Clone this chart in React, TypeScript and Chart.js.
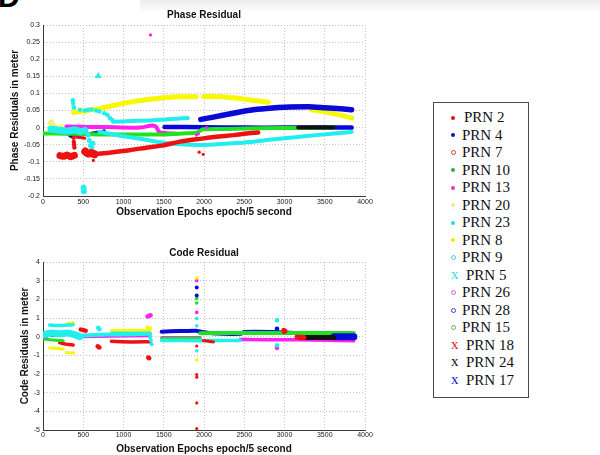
import React, { useEffect, useRef } from "react";
import { Chart, registerables } from "chart.js";

Chart.register(...registerables);

type P = [number, number];

// ---------- tick labels ----------
const EPOCH_TICKS = [0, 500, 1000, 1500, 2000, 2500, 3000, 3500, 4000];
const PHASE_TICKS = [-0.2, -0.15, -0.1, -0.05, 0, 0.05, 0.1, 0.15, 0.2, 0.25, 0.3];
const CODE_TICKS = [-5, -4, -3, -2, -1, 0, 1, 2, 3, 4];

// ---------- legend ----------
const legendLabels = ["PRN 2", "PRN 4", "PRN 7", "PRN 10", "PRN 13", "PRN 20", "PRN 23", "PRN 8", "PRN 9", "PRN 5", "PRN 26", "PRN 28", "PRN 15", "PRN 18", "PRN 24", "PRN 17"];
const legendColors = ["#e01010", "#1010c0", "#d04040", "#33b033", "#ee33cc", "#eeee88", "#22dddd", "#eeee00", "#44cccc", "#33dddd", "#cc66cc", "#4444bb", "#66b066", "#dd2222", "#111111", "#2222cc"];
const legendMarkers = ["dot", "dot", "ring", "dot", "dot", "dot", "dot", "dot", "ring", "x", "ring", "ring", "ring", "x", "x", "x"];

// ---------- phase residual data (epoch, metre) ----------
const phaseYellowArcA: P[] = [[381, 0.044], [500, 0.048], [705, 0.056], [900, 0.066], [1119, 0.076], [1330, 0.083], [1534, 0.088], [1700, 0.09], [1900, 0.09]];
const phaseYellowArcB: P[] = [[1995, 0.091], [2200, 0.09], [2363, 0.087], [2570, 0.081], [2800, 0.074]];
const phaseYellowTail: P[] = [[3340, 0.052], [3500, 0.046], [3606, 0.041], [3720, 0.035], [3834, 0.028]];
const phasePaleYellowDots: P[] = [[83, 0.012], [100, 0.018], [115, 0.015], [140, 0.006], [175, 0.002], [230, 0.004]];
const phaseBlueArc: P[] = [[1960, 0.024], [2100, 0.03], [2363, 0.042], [2570, 0.051], [2777, 0.056], [3067, 0.06], [3300, 0.061], [3500, 0.058], [3700, 0.055], [3834, 0.052]];
const phaseBlueZero: P[] = [[1510, 0.002], [2000, 0.001], [2500, 0.0], [3000, 0.0], [3500, 0.001], [3834, 0.0]];
const phaseBlueEarly: P[] = [[300, -0.013], [350, -0.025], [400, -0.02], [460, -0.016]];
const phaseBlueMid: P[] = [[600, -0.017], [680, -0.014], [760, -0.01]];
const phaseGreen: P[] = [[0, -0.017], [300, -0.018], [700, -0.02], [1119, -0.02], [1500, -0.02], [1741, -0.017], [1907, -0.015], [1990, -0.005], [2300, -0.004], [2700, -0.002], [3200, -0.001], [3606, 0.0]];
const phaseMagenta: P[] = [[290, 0.003], [600, 0.002], [900, 0.001], [1200, 0.0], [1360, 0.006], [1410, 0.001], [1440, -0.012], [1500, -0.016], [1658, -0.018]];
const phaseMagentaDots: P[] = [[1907, -0.022], [1930, -0.018], [2031, 0.0], [1335, 0.271]];
const phaseCyanUpper: P[] = [[870, 0.017], [1100, 0.019], [1326, 0.021], [1600, 0.025], [1800, 0.028]];
const phaseCyanLower: P[] = [[700, -0.012], [829, -0.018], [1040, -0.027], [1244, -0.034], [1451, -0.043], [1700, -0.049], [1949, -0.051], [2150, -0.049], [2363, -0.046], [2570, -0.042], [2777, -0.036], [3100, -0.029], [3399, -0.022], [3834, -0.013]];
const phaseCyanCluster: P[] = [[100, -0.004], [200, -0.008], [300, -0.01], [400, -0.006], [460, -0.012], [520, -0.008]];
const phaseCyanDrop: P[] = [[560, -0.022], [575, -0.038], [590, -0.052], [605, -0.058], [620, -0.046]];
const phaseCyanSparse: P[] = [[370, 0.08], [375, 0.07], [385, 0.058], [460, 0.052], [520, 0.05], [560, 0.052], [600, 0.053], [660, 0.05], [700, 0.047], [760, 0.042], [800, 0.037], [830, 0.028], [860, 0.022]];
const phaseCyanPeak: P[] = [[685, 0.151]];
const phaseCyanLow: P[] = [[504, -0.176], [508, -0.186]];
const phaseRedClusterA: P[] = [[210, -0.082], [260, -0.084], [300, -0.08], [340, -0.085], [390, -0.081]];
const phaseRedDrop: P[] = [[380, -0.03], [383, -0.042], [387, -0.05], [390, -0.058]];
const phaseRedShort: P[] = [[420, -0.028], [470, -0.029], [520, -0.031]];
const phaseRedClusterB: P[] = [[525, -0.07], [560, -0.076], [600, -0.074], [640, -0.078]];
const phaseRedTrack: P[] = [[640, -0.078], [800, -0.074], [1078, -0.066], [1300, -0.058], [1493, -0.052], [1700, -0.041], [1949, -0.033], [2150, -0.027], [2363, -0.022], [2500, -0.018], [2673, -0.014]];
const phaseRedDots: P[] = [[625, -0.096], [1940, -0.072], [1990, -0.078]];
const phaseBlack: P[] = [[3170, 0.0], [3400, 0.0], [3606, 0.0]];

// ---------- code residual data (epoch, metre) ----------
const codeCyanTop: P[] = [[83, 0.62], [200, 0.6], [300, 0.62], [374, 0.64]];
const codeYellowTop: P[] = [[300, 0.72], [380, 0.74]];
const codeCyanCluster: P[] = [[0, 0.1], [100, 0.2], [200, 0.15], [300, 0.2], [400, 0.1], [457, 0.0]];
const codeBlueLeft: P[] = [[83, 0.2], [166, 0.18], [120, 0.1]];
const codeMagentaLeft: P[] = [[0, 0.0], [40, 0.02]];
const codeGreenLeft: P[] = [[0, -0.12], [120, -0.18], [250, -0.22]];
const codeRedLeft: P[] = [[208, -0.32], [280, -0.4], [374, -0.45]];
const codeYellowLowA: P[] = [[83, -0.6], [180, -0.64], [250, -0.66]];
const codeYellowLowB: P[] = [[290, -0.85], [380, -0.88]];
const codeRedDots: P[] = [[470, 0.38], [500, 0.35], [530, 0.32], [680, -0.52], [700, -0.58], [1308, -1.12], [1318, -1.15], [2990, 0.35], [2995, 0.25], [3010, 0.3]];
const codeCyanDots: P[] = [[685, 0.48], [700, 0.4]];
const codeCyanMid: P[] = [[460, 0.05], [700, 0.1], [900, 0.12], [1330, 0.15]];
const codeCyanMid2: P[] = [[850, 0.2], [1330, 0.2]];
const codeYellowMid: P[] = [[850, 0.33], [1100, 0.35], [1330, 0.32]];
const codeRedMid: P[] = [[850, -0.25], [1100, -0.28], [1330, -0.27]];
const codeMagentaMid: P[] = [[460, 0.0], [850, 0.02], [1330, 0.05]];
const codeMagentaHigh: P[] = [[1300, 1.08], [1320, 1.12], [1335, 1.15]];
const codeYellowHigh: P[] = [[1300, 0.5], [1330, 0.45]];
const codeCyanDip: P[] = [[1330, -0.05], [1340, -0.2], [1350, -0.4]];
const codeBlueTrack: P[] = [[1474, 0.27], [1700, 0.3], [1900, 0.32], [1952, 0.28], [2100, 0.18], [2450, 0.15], [2500, 0.25], [2865, 0.25], [3150, 0.2]];
const codeMagentaTrackA: P[] = [[1474, -0.05], [1952, -0.05]];
const codeMagentaTrackB: P[] = [[2450, -0.15], [3156, -0.17], [3860, -0.22]];
const codeCyanTrack: P[] = [[1474, -0.2], [1952, -0.22], [2100, -0.2], [2450, -0.2]];
const codeGreenTrack: P[] = [[1952, 0.18], [2500, 0.2], [3000, 0.2], [3860, 0.2]];
const codeGreenMid: P[] = [[1474, -0.1], [1952, -0.08]];
const codeRedTrack: P[] = [[1993, -0.2], [2118, -0.28]];
const codeBlackBlock: P[] = [[3200, -0.05], [3613, -0.05]];
const codeBlueBlock: P[] = [[3613, 0.0], [3862, 0.0]];
const codeRedBlock: P[] = [[3156, -0.02], [3240, -0.05]];
const codeSpikeRed: P[] = [[1910, -0.5], [1910, -2.03], [1910, -2.17], [1910, -3.55], [1910, -4.92]];
const codeSpikeMagenta: P[] = [[1910, 3.0], [1910, 1.3]];
const codeSpikeBlue: P[] = [[1910, 2.63], [1910, 2.2]];
const codeSpikeGreen: P[] = [[1910, 2.05], [1910, 1.8]];
const codeSpikeCyan: P[] = [[1910, 0.97], [1910, 0.58], [1910, -0.76]];
const codeSpikeYellow: P[] = [[1910, 3.15], [1910, -1.25]];
const codeBlue2900: P[] = [[2907, 0.42]];
const codeCyan2900: P[] = [[2907, 0.88], [2907, -0.46]];
const codeMagenta2900: P[] = [[2907, -0.6]];

// ---------- styling ----------
const C = {
  red: "#ee1111",
  blue: "#0a0ad8",
  green: "#22e022",
  magenta: "#ff22ee",
  yellow: "#f8f800",
  paleYellow: "#f4f070",
  cyan: "#22eeee",
  black: "#111111",
};
const SANS = "'Liberation Sans', Arial, Helvetica, sans-serif";
const SERIF = "'Liberation Serif', 'Times New Roman', Times, serif";

type Spec = { data: P[]; color: string; kind: "track" | "dots"; size: number; style?: string };

function toDataset(s: Spec) {
  const data = s.data.map(([x, y]) => ({ x, y }));
  if (s.kind === "track") {
    return {
      data,
      showLine: true,
      borderColor: s.color,
      backgroundColor: s.color,
      borderWidth: s.size,
      borderCapStyle: "round",
      borderJoinStyle: "round",
      tension: 0.2,
      pointRadius: 0,
      pointHoverRadius: 0,
    };
  }
  return {
    data,
    showLine: false,
    backgroundColor: s.color,
    borderColor: s.color,
    borderWidth: 0,
    pointRadius: s.size,
    pointHoverRadius: s.size,
    pointStyle: s.style || "circle",
  };
}

// first listed = drawn on top
const phaseSeries: Spec[] = [
  { data: phaseMagentaDots, color: C.magenta, kind: "dots", size: 1.6 },
  { data: phaseRedDots, color: C.red, kind: "dots", size: 1.6 },
  { data: phaseCyanPeak, color: C.cyan, kind: "dots", size: 4, style: "triangle" },
  { data: phaseCyanLow, color: C.cyan, kind: "dots", size: 3 },
  { data: phaseBlack, color: C.black, kind: "track", size: 4 },
  { data: phaseRedTrack, color: C.red, kind: "track", size: 4.5 },
  { data: phaseRedClusterA, color: C.red, kind: "track", size: 7 },
  { data: phaseRedClusterB, color: C.red, kind: "track", size: 8 },
  { data: phaseRedDrop, color: C.red, kind: "dots", size: 2.2 },
  { data: phaseRedShort, color: C.red, kind: "track", size: 3 },
  { data: phaseCyanDrop, color: C.cyan, kind: "dots", size: 2.5 },
  { data: phaseCyanSparse, color: C.cyan, kind: "dots", size: 2.3 },
  { data: phaseCyanCluster, color: C.cyan, kind: "track", size: 7 },
  { data: phaseCyanUpper, color: C.cyan, kind: "track", size: 4 },
  { data: phaseCyanLower, color: C.cyan, kind: "track", size: 4 },
  { data: phaseGreen, color: C.green, kind: "track", size: 4 },
  { data: phaseMagenta, color: C.magenta, kind: "track", size: 4 },
  { data: phaseBlueEarly, color: C.blue, kind: "track", size: 4 },
  { data: phaseBlueMid, color: C.blue, kind: "track", size: 3.5 },
  { data: phaseBlueZero, color: C.blue, kind: "track", size: 4.5 },
  { data: phaseBlueArc, color: C.blue, kind: "track", size: 5.5 },
  { data: phasePaleYellowDots, color: C.paleYellow, kind: "dots", size: 2.2 },
  { data: phaseYellowArcA, color: C.yellow, kind: "track", size: 5 },
  { data: phaseYellowArcB, color: C.yellow, kind: "track", size: 5 },
  { data: phaseYellowTail, color: C.yellow, kind: "track", size: 5 },
];

const codeSeries: Spec[] = [
  { data: codeSpikeYellow, color: C.yellow, kind: "dots", size: 1.8 },
  { data: codeSpikeMagenta, color: C.magenta, kind: "dots", size: 1.8 },
  { data: codeSpikeBlue, color: C.blue, kind: "dots", size: 2 },
  { data: codeSpikeGreen, color: C.green, kind: "dots", size: 1.8 },
  { data: codeSpikeCyan, color: C.cyan, kind: "dots", size: 1.8 },
  { data: codeSpikeRed, color: C.red, kind: "dots", size: 1.6 },
  { data: codeBlue2900, color: C.blue, kind: "dots", size: 2.3 },
  { data: codeCyan2900, color: C.cyan, kind: "dots", size: 2.3 },
  { data: codeMagenta2900, color: C.magenta, kind: "dots", size: 2.3 },
  { data: codeMagentaHigh, color: C.magenta, kind: "dots", size: 2.3 },
  { data: codeRedDots, color: C.red, kind: "dots", size: 2.3 },
  { data: codeCyanDots, color: C.cyan, kind: "dots", size: 2.3 },
  { data: codeYellowHigh, color: C.yellow, kind: "dots", size: 2 },
  { data: codeCyanDip, color: C.cyan, kind: "dots", size: 2 },
  { data: codeRedBlock, color: C.red, kind: "track", size: 5 },
  { data: codeBlackBlock, color: C.black, kind: "track", size: 5 },
  { data: codeBlueBlock, color: C.blue, kind: "track", size: 7 },
  { data: codeGreenTrack, color: C.green, kind: "track", size: 4 },
  { data: codeRedTrack, color: C.red, kind: "track", size: 3 },
  { data: codeBlueTrack, color: C.blue, kind: "track", size: 4 },
  { data: codeCyanTrack, color: C.cyan, kind: "track", size: 3.5 },
  { data: codeGreenMid, color: C.green, kind: "track", size: 3 },
  { data: codeMagentaTrackA, color: C.magenta, kind: "track", size: 3 },
  { data: codeMagentaTrackB, color: C.magenta, kind: "track", size: 3.5 },
  { data: codeCyanTop, color: C.cyan, kind: "track", size: 3.5 },
  { data: codeYellowTop, color: C.yellow, kind: "track", size: 2.5 },
  { data: codeCyanCluster, color: C.cyan, kind: "track", size: 7 },
  { data: codeBlueLeft, color: C.blue, kind: "dots", size: 2.3 },
  { data: codeMagentaLeft, color: C.magenta, kind: "track", size: 4 },
  { data: codeGreenLeft, color: C.green, kind: "track", size: 3 },
  { data: codeRedLeft, color: C.red, kind: "track", size: 3.5 },
  { data: codeYellowLowA, color: C.yellow, kind: "track", size: 3 },
  { data: codeYellowLowB, color: C.yellow, kind: "track", size: 3 },
  { data: codeCyanMid, color: C.cyan, kind: "track", size: 4 },
  { data: codeCyanMid2, color: C.cyan, kind: "track", size: 3 },
  { data: codeYellowMid, color: C.yellow, kind: "track", size: 3 },
  { data: codeRedMid, color: C.red, kind: "track", size: 3.5 },
  { data: codeMagentaMid, color: C.magenta, kind: "track", size: 3 },
];

type PanelCfg = {
  title: string;
  yTitle: string;
  yTicks: number[];
  series: Spec[];
  titlePad: { top: number; bottom: number };
  xAxisHeight: number;
  xTickPad: number;
  xTitleBottom: number;
  yTitleTop: number;
  fmt: (v: number) => string;
};

function buildConfig(p: PanelCfg): any {
  const tickFont = { family: SANS, size: 7 };
  const titleFont = { family: SANS, size: 10, weight: "bold" as const };
  const gridCommon = { color: "#c4c4c4", lineWidth: 1, drawTicks: false };
  const borderCommon = { display: true, color: "#3a3a3a", width: 1, dash: [1, 2] };
  return {
    type: "scatter",
    data: { datasets: p.series.map(toDataset) },
    options: {
      animation: false,
      responsive: false,
      devicePixelRatio: 1,
      events: [],
      layout: { padding: { left: 0, right: 15, top: 0, bottom: 0 } },
      plugins: {
        legend: { display: false },
        tooltip: { enabled: false },
        title: {
          display: true,
          text: p.title,
          fullSize: false,
          color: "#111",
          font: titleFont,
          padding: p.titlePad,
        },
      },
      scales: {
        x: {
          type: "linear",
          min: EPOCH_TICKS[0],
          max: EPOCH_TICKS[EPOCH_TICKS.length - 1],
          afterBuildTicks: (s: any) => {
            s.ticks = EPOCH_TICKS.map((v) => ({ value: v }));
          },
          afterFit: (s: any) => {
            s.height = p.xAxisHeight;
          },
          ticks: {
            autoSkip: false,
            maxRotation: 0,
            font: tickFont,
            color: "#222",
            padding: p.xTickPad,
            callback: (v: any) => String(v),
          },
          grid: gridCommon,
          border: borderCommon,
          title: {
            display: true,
            text: "Observation Epochs epoch/5 second",
            color: "#111",
            font: titleFont,
            padding: { top: 0, bottom: p.xTitleBottom },
          },
        },
        y: {
          type: "linear",
          min: p.yTicks[0],
          max: p.yTicks[p.yTicks.length - 1],
          afterBuildTicks: (s: any) => {
            s.ticks = p.yTicks.map((v) => ({ value: v }));
          },
          afterFit: (s: any) => {
            s.width = 43;
          },
          ticks: {
            autoSkip: false,
            font: tickFont,
            color: "#222",
            padding: 3,
            callback: (v: any) => p.fmt(Number(v)),
          },
          grid: gridCommon,
          border: borderCommon,
          title: {
            display: true,
            text: p.yTitle,
            color: "#111",
            font: titleFont,
            padding: { top: p.yTitleTop, bottom: 0 },
          },
        },
      },
    },
  };
}

function Panel({ cfg, left, top, width, height }: { cfg: PanelCfg; left: number; top: number; width: number; height: number }) {
  const ref = useRef<HTMLCanvasElement | null>(null);
  useEffect(() => {
    if (!ref.current) return;
    const chart = new Chart(ref.current, buildConfig(cfg));
    return () => chart.destroy();
  }, [cfg]);
  return (
    <canvas
      ref={ref}
      width={width}
      height={height}
      style={{ position: "absolute", left, top, width, height, display: "block" }}
    />
  );
}

const phaseCfg: PanelCfg = {
  title: "Phase Residual",
  yTitle: "Phase Residuals in meter",
  yTicks: PHASE_TICKS,
  series: phaseSeries,
  titlePad: { top: 9, bottom: 4 },
  xAxisHeight: 29,
  xTickPad: 2,
  xTitleBottom: 7,
  yTitleTop: 9,
  fmt: (v) => String(Math.round(v * 100) / 100),
};

const codeCfg: PanelCfg = {
  title: "Code Residual",
  yTitle: "Code Residuals in meter",
  yTicks: CODE_TICKS,
  series: codeSeries,
  titlePad: { top: 19, bottom: 3 },
  xAxisHeight: 25,
  xTickPad: 1,
  xTitleBottom: 0,
  yTitleTop: 19,
  fmt: (v) => String(Math.round(v)),
};

function Marker({ kind, color }: { kind: string; color: string }) {
  if (kind === "x") {
    return (
      <span style={{ position: "absolute", left: 17, top: -1, font: `15px ${SERIF}`, color, lineHeight: "17px" }}>x</span>
    );
  }
  const ring = kind === "ring";
  return (
    <span
      style={{
        position: "absolute",
        left: ring ? 16.5 : 17,
        top: ring ? 6 : 6.5,
        width: ring ? 5 : 4,
        height: ring ? 5 : 4,
        borderRadius: "50%",
        boxSizing: "border-box",
        background: ring ? "transparent" : color,
        border: ring ? `1px solid ${color}` : "none",
      }}
    />
  );
}

function Legend() {
  return (
    <div
      style={{
        position: "absolute",
        left: 433,
        top: 102,
        width: 96,
        height: 296,
        border: "1px solid #4a4a4a",
        boxSizing: "border-box",
        background: "#fff",
      }}
    >
      {legendLabels.map((label, i) => (
        <div key={label} style={{ position: "absolute", left: 0, top: 6 + i * 17.5, width: 94, height: 17 }}>
          <Marker kind={legendMarkers[i]} color={legendColors[i]} />
          <span
            style={{
              position: "absolute",
              left: legendMarkers[i] === "x" ? 32 : i === 0 ? 30 : 28,
              top: 0,
              font: `15px ${SERIF}`,
              lineHeight: "17px",
              color: "#111",
              whiteSpace: "nowrap",
            }}
          >
            {label}
          </span>
        </div>
      ))}
    </div>
  );
}

export default function App() {
  return (
    <div style={{ position: "absolute", left: 0, top: 0, width: 600, height: 455, background: "#fff", overflow: "hidden" }}>
      <div
        style={{
          position: "absolute",
          left: 140,
          top: 0,
          width: 460,
          height: 11,
          background: "linear-gradient(to bottom, #ececec, #fbfbfb)",
        }}
      />
      <span
        style={{
          position: "absolute",
          left: -2,
          top: -18,
          font: `bold 30px ${SANS}`,
          lineHeight: "30px",
          color: "#000",
        }}
      >
        D
      </span>
      <Panel cfg={phaseCfg} left={0} top={0} width={380} height={225} />
      <Panel cfg={codeCfg} left={0} top={228} width={380} height={227} />
      <Legend />
    </div>
  );
}
